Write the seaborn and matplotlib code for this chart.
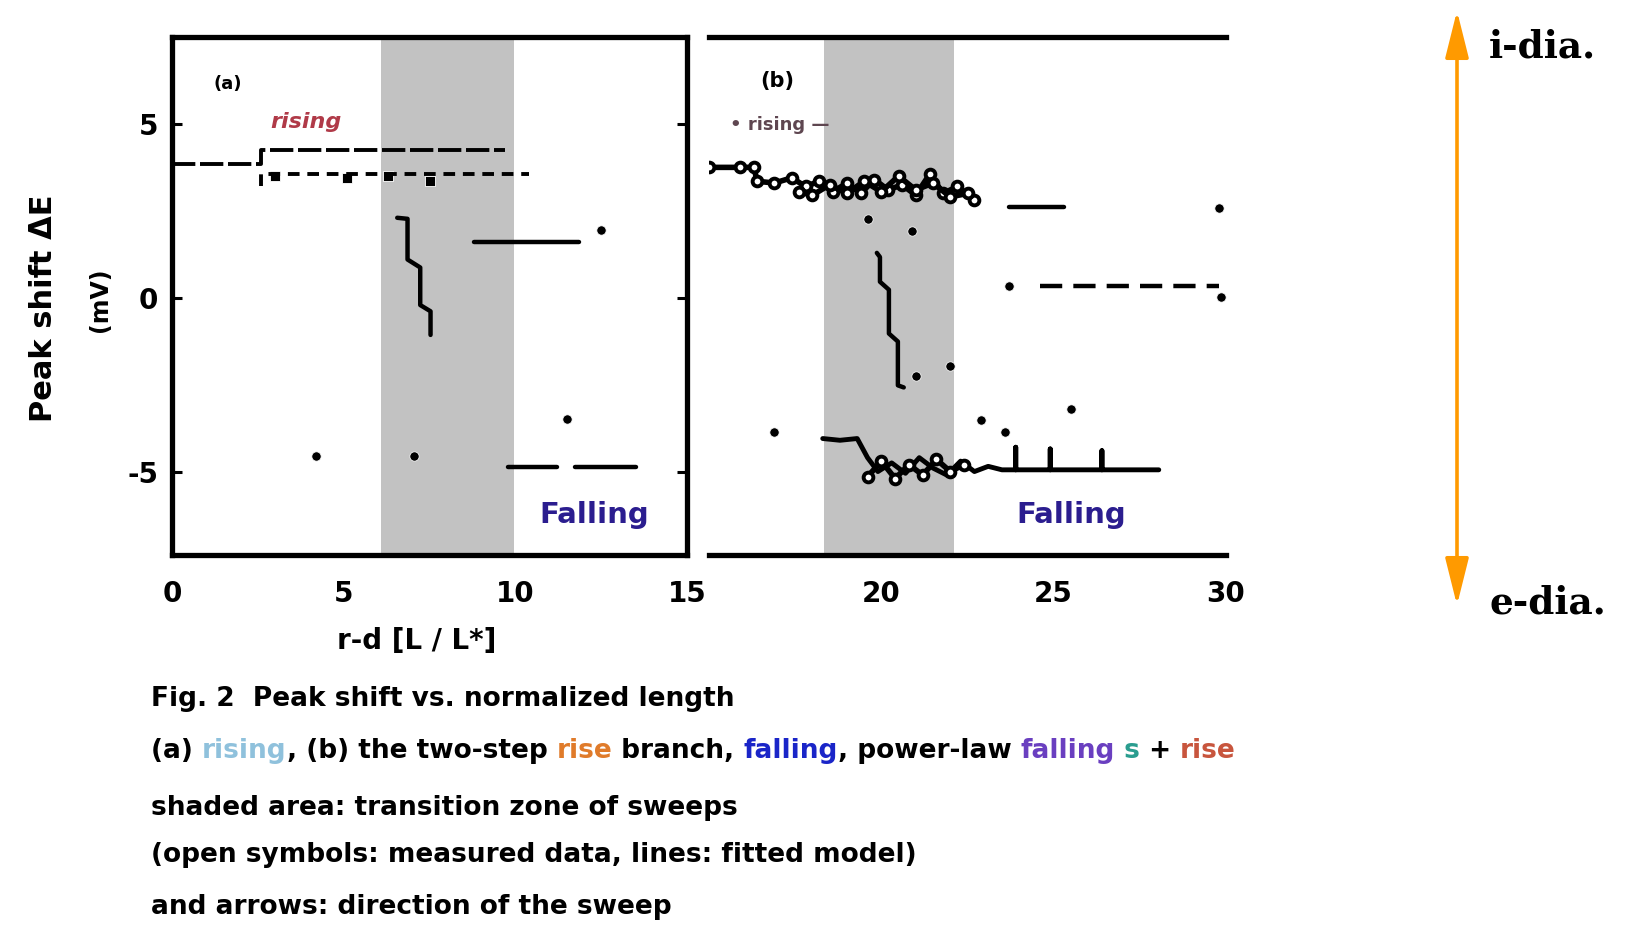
import matplotlib
matplotlib.use("Agg")
import matplotlib.pyplot as plt
import seaborn as sns

sns.set_theme(style="white")
plt.rcParams['font.family'] = ['DejaVu Sans']
plt.rcParams['text.color'] = 'black'
plt.rcParams['axes.labelcolor'] = 'black'
plt.rcParams['xtick.color'] = 'black'
plt.rcParams['ytick.color'] = 'black'

# ---------------- data ----------------
x_ticks_a = [0, 5, 10, 15]
x_ticks_b = [20, 25, 30]
y_ticks = [-5, 0, 5]
band_a = [6.1, 9.95]
band_b = [18.35, 22.1]

# panel (a)
a_rise_x = [0.0, 2.6, 2.6, 9.7]
a_rise_y = [3.85, 3.85, 4.25, 4.25]
a_dash_x = [2.6, 2.6, 10.4]
a_dash_y = [3.2, 3.55, 3.55]
a_mark_x = [3.0, 5.1, 6.3, 7.5]
a_mark_y = [3.5, 3.45, 3.5, 3.35]
a_fall_x = [6.56, 6.86, 6.86, 7.23, 7.23, 7.53, 7.53]
a_fall_y = [2.30, 2.27, 1.10, 0.87, -0.21, -0.39, -1.07]
a_mid_x = [8.8, 11.85]
a_mid_y = [1.6, 1.6]
a_low1_x = [9.8, 11.2]
a_low2_x = [11.75, 13.5]
a_low_y = [-4.87, -4.87]
a_dot_x = [12.5, 11.5, 4.2, 7.05]
a_dot_y = [1.95, -3.5, -4.55, -4.55]

# panel (b)
b_top_x = [15.0, 15.9, 16.3, 16.4, 16.9, 17.4, 17.8, 18.2, 18.6, 19.0, 19.4, 19.8,
           20.2, 20.6, 21.0, 21.4, 21.8, 22.2, 22.7]
b_top_y = [3.75, 3.75, 3.75, 3.35, 3.30, 3.45, 3.20, 3.35, 3.05, 3.30, 3.00, 3.40,
           3.10, 3.25, 2.95, 3.55, 3.00, 3.20, 2.80]
b_top2_x = [17.6, 18.0, 18.5, 19.0, 19.5, 20.0, 20.5, 21.0, 21.5, 22.0, 22.5]
b_top2_y = [3.05, 2.95, 3.25, 3.00, 3.35, 3.05, 3.50, 3.10, 3.30, 2.90, 3.00]
b_short_x = [23.7, 25.3]
b_short_y = [2.6, 2.6]
b_fall_x = [19.87, 19.96, 19.96, 20.22, 20.22, 20.48, 20.48, 20.65]
b_fall_y = [1.29, 1.17, 0.46, 0.23, -1.03, -1.26, -2.52, -2.58]
b_dash_x = [24.6, 29.8]
b_dash_y = [0.34, 0.34]
b_low_x = [18.3, 18.8, 19.3, 19.6, 19.9, 20.3, 20.7, 21.1, 21.5, 21.9, 22.3, 22.7,
           23.1, 23.5, 23.9, 23.9, 23.9, 24.4, 24.9, 24.9, 24.9, 25.6, 26.4, 26.4,
           26.4, 27.2, 28.05]
b_low_y = [-4.05, -4.10, -4.05, -4.60, -5.00, -4.75, -5.05, -4.60, -4.90, -5.10,
           -4.70, -5.00, -4.85, -4.95, -4.95, -4.30, -4.95, -4.95, -4.95, -4.35,
           -4.95, -4.95, -4.95, -4.40, -4.95, -4.95, -4.95]
b_low2_x = [19.6, 20.0, 20.4, 20.8, 21.2, 21.6, 22.0, 22.4]
b_low2_y = [-5.15, -4.70, -5.20, -4.80, -5.10, -4.65, -5.00, -4.80]
b_dot_x = [29.8, 19.6, 20.9, 21.0, 22.0, 23.7, 29.85, 16.9, 25.5, 22.9, 23.6]
b_dot_y = [2.58, 2.26, 1.93, -2.26, -1.95, 0.34, 0.03, -3.85, -3.2, -3.53, -3.85]

caption_lines = [
    "Fig. 2  Peak shift vs. normalized length",
    None,
    "shaded area: transition zone of sweeps",
    "(open symbols: measured data, lines: fitted model)",
    "and arrows: direction of the sweep",
]
caption_line2 = [("(a) ", "black"), ("rising", "#8fc1dc"), (", (b) the two-step ", "black"),
                 ("rise", "#e07b2a"), (" branch, ", "black"), ("falling", "#1a25c8"),
                 (", power-law ", "black"), ("falling", "#6a3fc0"), (" s", "#2a9d8f"),
                 (" + ", "black"), ("rise", "#c8553d")]

W, H = 1635, 931
fig = plt.figure(figsize=(W / 100, H / 100), dpi=100)
fig.patch.set_facecolor("white")

ax1 = fig.add_axes([172 / W, 1 - 555 / H, 515 / W, 518 / H])
ax2 = fig.add_axes([709 / W, 1 - 555 / H, 517 / W, 518 / H])

K = "black"
for ax, band in ((ax1, band_a), (ax2, band_b)):
    ax.axvspan(band[0], band[1], color="#c2c2c2", zorder=0, lw=0)

def line(ax, x, y, lw=2.8, ls="-", **kw):
    sns.lineplot(x=x, y=y, ax=ax, sort=False, estimator=None, color=K,
                 linewidth=lw, linestyle=ls, **kw)

# panel (a)
line(ax1, a_rise_x, a_rise_y, ls=(0, (6, 1.2)))
line(ax1, a_dash_x, a_dash_y, ls=(0, (3, 2)))
sns.scatterplot(x=a_mark_x, y=a_mark_y, ax=ax1, color=K, s=60, marker="s")
line(ax1, a_fall_x, a_fall_y, lw=3.2)
line(ax1, a_mid_x, a_mid_y, lw=3.2)
line(ax1, a_low1_x, a_low_y, lw=3.2)
line(ax1, a_low2_x, a_low_y, lw=3.2)
sns.scatterplot(x=a_dot_x, y=a_dot_y, ax=ax1, color=K, s=45)

# panel (b)
mk = dict(marker="o", markersize=7, markerfacecolor="white",
          markeredgecolor=K, markeredgewidth=2.8)
line(ax2, b_top_x, b_top_y, lw=4, **mk)
line(ax2, b_top2_x, b_top2_y, lw=4, **mk)
line(ax2, b_short_x, b_short_y, lw=3.2)
line(ax2, b_fall_x, b_fall_y, lw=3.2)
line(ax2, b_dash_x, b_dash_y, lw=3.2, ls=(0, (5, 2.5)))
line(ax2, b_low_x, b_low_y, lw=3.5)
line(ax2, b_low2_x, b_low2_y, lw=4, **mk)
sns.scatterplot(x=b_dot_x, y=b_dot_y, ax=ax2, color=K, s=45)

# axes styling
for ax in (ax1, ax2):
    ax.set_ylim(-7.4, 7.5)
    ax.set_yticks(y_ticks)
    ax.set_xlabel("")
    ax.set_ylabel("")
    ax.set_facecolor("white")
    ax.tick_params(direction="in", length=7, width=2.2, color=K,
                   labelcolor=K, labelsize=20, pad=18)

ax1.set_xlim(0, 15)
ax1.set_xticks(x_ticks_a)
ax1.set_xticklabels([str(v) for v in x_ticks_a], fontweight="bold")
ax1.set_yticklabels([str(v) for v in y_ticks], fontweight="bold")
ax1.tick_params(axis="y", pad=10, right=True, left=True)
ax1.tick_params(axis="x", bottom=False)
for s in ax1.spines.values():
    s.set_linewidth(3.8)
    s.set_color(K)

ax2.set_xlim(15, 30)
ax2.set_xticks(x_ticks_b)
ax2.set_xticklabels([str(v) for v in x_ticks_b], fontweight="bold")
ax2.tick_params(axis="y", left=False, right=False, labelleft=False)
ax2.tick_params(axis="x", bottom=False)
for name, s in ax2.spines.items():
    s.set_linewidth(3.8)
    s.set_color(K)
    if name in ("left", "right"):
        s.set_visible(False)

# in-panel annotations
ax1.text(0.08, 0.91, "(a)", transform=ax1.transAxes, fontsize=13,
         fontweight="bold", color=K, ha="left", va="center")
ax1.text(0.19, 0.836, "rising", transform=ax1.transAxes, fontsize=16,
         fontstyle="italic", fontweight="bold", color="#b03a48",
         ha="left", va="center")
ax1.text(0.82, 0.077, "Falling", transform=ax1.transAxes, fontsize=21,
         fontweight="bold", color="#2b1d8f", ha="center", va="center")
ax2.text(0.10, 0.915, "(b)", transform=ax2.transAxes, fontsize=15,
         fontweight="bold", color=K, ha="left", va="center")
ax2.text(0.04, 0.83, "• rising —", transform=ax2.transAxes, fontsize=13,
         fontweight="bold", color="#5e4650", ha="left", va="center")
ax2.text(0.70, 0.077, "Falling", transform=ax2.transAxes, fontsize=21,
         fontweight="bold", color="#2b1d8f", ha="center", va="center")

# axis labels
fig.text(44 / W, 1 - 308 / H, "Peak shift ΔE", rotation=90, fontsize=22,
         fontweight="bold", ha="center", va="center", color=K)
fig.text(100 / W, 1 - 300 / H, "(mV)", rotation=90, fontsize=17,
         fontweight="bold", ha="center", va="center", color=K)
fig.text(417 / W, 1 - 641 / H, "r-d [L / L*]", fontsize=20,
         fontweight="bold", ha="center", va="center", color=K)

# caption
cap_y = [699, 751, 808, 855, 907]
for txt, yy in zip(caption_lines, cap_y):
    if txt is None:
        continue
    fig.text(151 / W, 1 - yy / H, txt, fontsize=19, fontweight="bold",
             ha="left", va="center", color=K)

fig.canvas.draw()
renderer = fig.canvas.get_renderer()
xpos = 151
for txt, col in caption_line2:
    t = fig.text(xpos / W, 1 - cap_y[1] / H, txt, fontsize=19,
                 fontweight="bold", ha="left", va="center", color=col)
    bb = t.get_window_extent(renderer=renderer)
    xpos += bb.width

# right-hand arrow and labels
fig.add_artist(matplotlib.patches.FancyArrowPatch(
    (1457 / W, 1 - 608 / H), (1457 / W, 1 - 8 / H),
    transform=fig.transFigure, arrowstyle="<|-|>,head_length=1.8,head_width=0.45",
    mutation_scale=16, color="#ff9a00", lw=2.6))
fig.text(1489 / W, 1 - 47 / H, "i-dia.", fontsize=27, fontweight="bold",
         family="DejaVu Serif", ha="left", va="center", color=K)
fig.text(1489 / W, 1 - 603 / H, "e-dia.", fontsize=27, fontweight="bold",
         family="DejaVu Serif", ha="left", va="center", color=K)

fig.savefig("out.png", dpi=100, facecolor="white")
